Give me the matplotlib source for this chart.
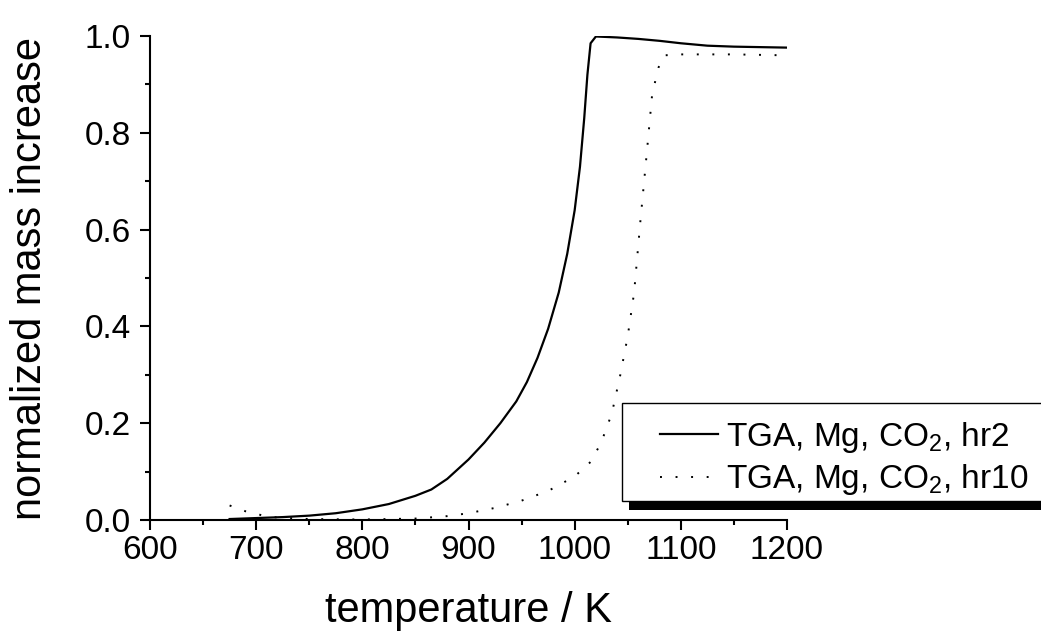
import matplotlib
matplotlib.use("Agg")
import matplotlib.pyplot as plt
from matplotlib.patches import Rectangle
from matplotlib.ticker import MultipleLocator

plt.rcParams['font.family'] = ['Liberation Sans', 'DejaVu Sans']
plt.rcParams['mathtext.fontset'] = 'custom'
plt.rcParams['mathtext.rm'] = 'Liberation Sans'
plt.rcParams['mathtext.it'] = 'Liberation Sans'

# hr2 (solid)
temp_hr2 = [675, 700, 725, 750, 775, 800, 825, 850, 865, 880, 900, 915, 930,
            945, 955, 965, 975, 985, 993, 1000, 1005, 1009, 1012, 1015, 1020,
            1040, 1060, 1080, 1100, 1125, 1150, 1175, 1200]
mass_hr2 = [0.002, 0.004, 0.006, 0.009, 0.014, 0.022, 0.033, 0.05, 0.063,
            0.085, 0.125, 0.16, 0.2, 0.245, 0.285, 0.335, 0.395, 0.47, 0.55,
            0.64, 0.73, 0.83, 0.92, 0.985, 0.999, 0.997, 0.994, 0.99, 0.985,
            0.98, 0.978, 0.977, 0.976]

# hr10 (dotted)
temp_hr10 = [675, 690, 705, 720, 750, 800, 850, 880, 900, 925, 950, 975, 1000,
             1015, 1025, 1035, 1043, 1050, 1056, 1062, 1068, 1073, 1079, 1084,
             1100, 1150, 1200]
mass_hr10 = [0.03, 0.018, 0.01, 0.005, 0.002, 0.001, 0.003, 0.008, 0.014,
             0.025, 0.04, 0.06, 0.09, 0.12, 0.16, 0.22, 0.30, 0.38, 0.47, 0.62,
             0.76, 0.88, 0.935, 0.96, 0.962, 0.962, 0.96]

labels = ['TGA, Mg, CO$_2$, hr2', 'TGA, Mg, CO$_2$, hr10']
x_ticks = [600, 700, 800, 900, 1000, 1100, 1200]
y_ticks = [0.0, 0.2, 0.4, 0.6, 0.8, 1.0]

W, H = 1041, 633
fig = plt.figure(figsize=(W / 100, H / 100), dpi=100)
ax = fig.add_axes([150 / W, (H - 520) / H, (787 - 150) / W, (520 - 36) / H])

l1, = ax.plot(temp_hr2, mass_hr2, color='black', lw=1.6, label=labels[0])
l2, = ax.plot(temp_hr10, mass_hr10, color='black', lw=1.4,
              linestyle=(0, (1, 7)), label=labels[1])

ax.set_xlim(600, 1200)
ax.set_ylim(0, 1.0)
ax.set_xticks(x_ticks)
ax.set_yticks(y_ticks)
ax.set_yticklabels([f'{v:.1f}' for v in y_ticks])
ax.xaxis.set_minor_locator(MultipleLocator(50))
ax.yaxis.set_minor_locator(MultipleLocator(0.1))
for s in ['top', 'right']:
    ax.spines[s].set_visible(False)
for s in ['left', 'bottom']:
    ax.spines[s].set_linewidth(1.5)
ax.tick_params(which='major', direction='out', length=7, width=1.5,
               labelsize=24)
ax.tick_params(axis='y', which='major', pad=7)
ax.tick_params(axis='x', which='major', pad=4)
ax.tick_params(which='minor', direction='out', length=3.5, width=1.5)

ax.set_xlabel('temperature / K', fontsize=30, labelpad=18)
ax.set_ylabel('normalized mass increase', fontsize=30, labelpad=25)

# legend frame (extends beyond right edge) + black shadow
fig.patches.append(Rectangle((629 / W, (H - 510) / H), (1060 - 629) / W, 9 / H,
                             transform=fig.transFigure, facecolor='black',
                             edgecolor='none', zorder=4))
fig.patches.append(Rectangle((622 / W, (H - 501) / H), (1060 - 622) / W, 98 / H,
                             transform=fig.transFigure, facecolor='white',
                             edgecolor='black', linewidth=1.0, zorder=5))

leg = fig.legend(handles=[l1, l2], loc='upper left',
                 bbox_to_anchor=(660 / W, (H - 420) / H),
                 bbox_transform=fig.transFigure,
                 fontsize=24, frameon=False, borderaxespad=0, borderpad=0,
                 handlelength=1.75, handletextpad=0.22, labelspacing=0.22)
leg.set_zorder(6)

fig.savefig('out.png', dpi=100)
